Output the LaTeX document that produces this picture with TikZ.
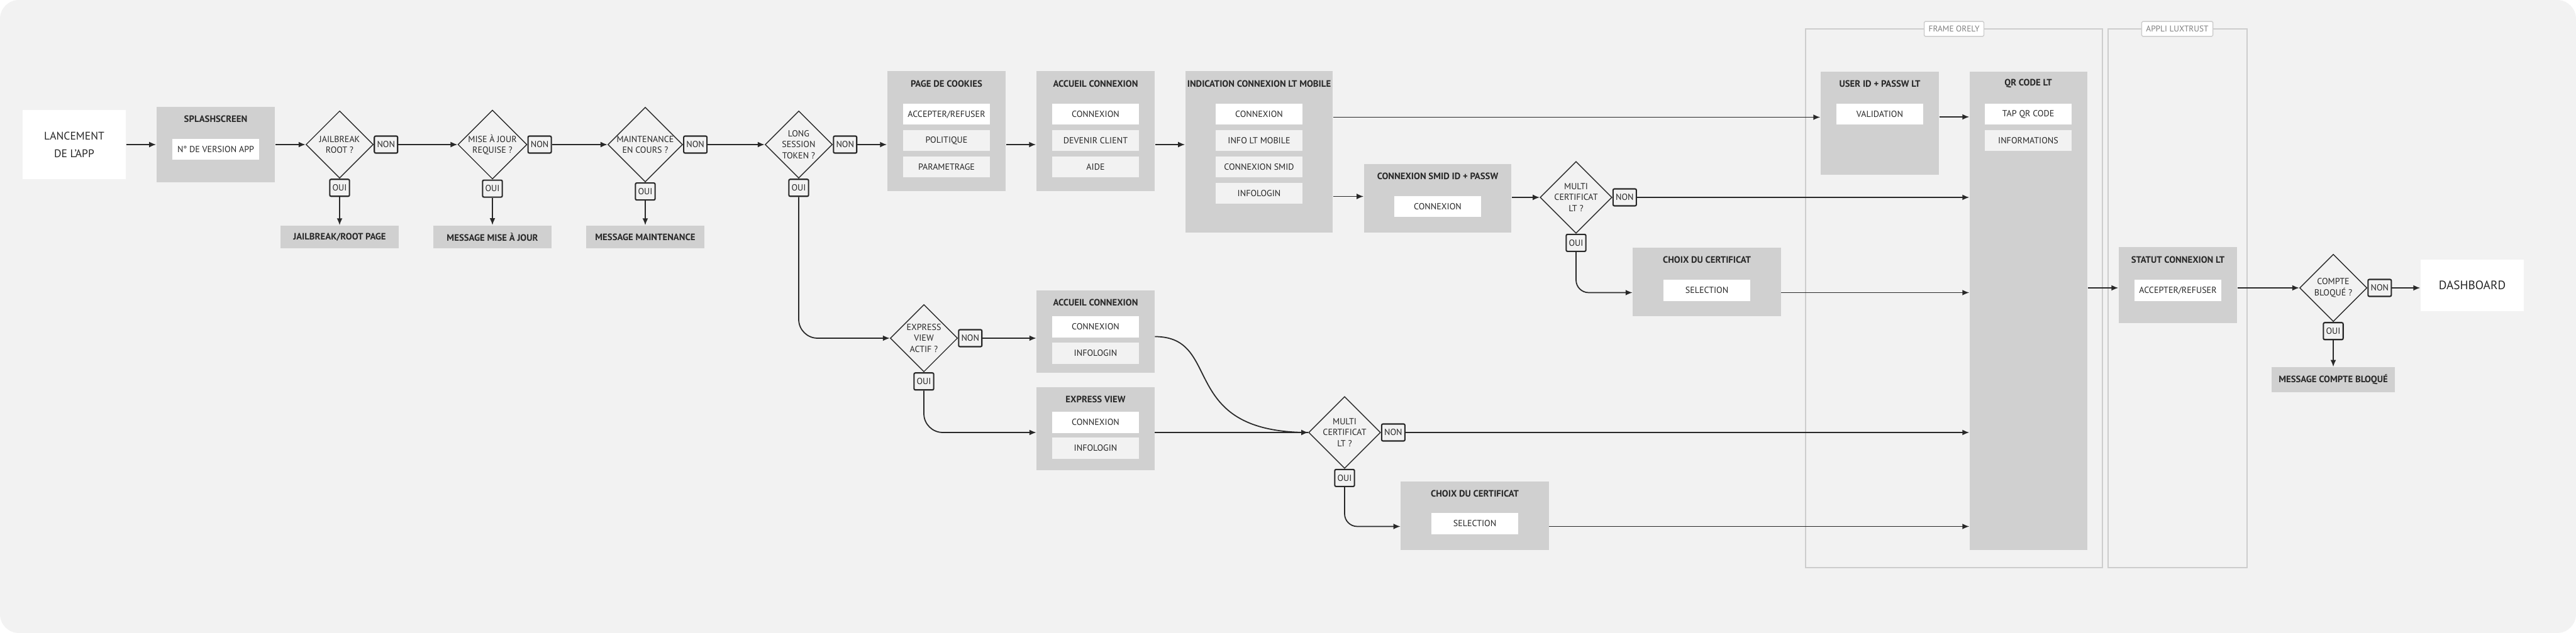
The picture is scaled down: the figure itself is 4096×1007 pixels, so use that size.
\documentclass[tikz,border=0pt]{standalone}
\usepackage{fontspec}
\setmainfont{PT Sans}
\definecolor{BgGray}{RGB}{242, 242, 242}
\definecolor{PanelGray}{RGB}{208, 208, 208}
\definecolor{FrameGray}{RGB}{205, 205, 205}
\definecolor{InkGray}{RGB}{40, 40, 40}
\usetikzlibrary{arrows.meta, positioning, shapes.geometric, calc}

\begin{document}
\begin{tikzpicture}[
            x=0.01cm, y=-0.01cm,
            panel/.style={rectangle, fill=PanelGray, inner sep=0pt},
            ttl/.style={font=\fontsize{4.2}{5}\selectfont\bfseries, text=InkGray},
            item/.style={rectangle, fill=white, minimum width=1.37cm, minimum height=0.33cm,
                        inner sep=0pt, font=\fontsize{4}{5}\selectfont, text=InkGray},
            itemb/.style={item, fill=BgGray},
            dec/.style={diamond, draw=InkGray, thin, fill=BgGray, minimum width=1.07cm, minimum height=1.07cm,
                        aspect=1, inner sep=0pt, align=center, font=\fontsize{4}{5}\selectfont, text=InkGray},
            tag/.style={rectangle, draw=InkGray, semithick, rounded corners=0.6pt, fill=BgGray,
                        minimum height=0.27cm, inner sep=1.2pt, font=\fontsize{4}{5}\selectfont, text=InkGray},
            endbox/.style={rectangle, fill=PanelGray, minimum width=1.87cm, minimum height=0.36cm,
                        font=\fontsize{4.2}{5}\selectfont\bfseries, text=InkGray},
            frame/.style={draw=FrameGray, thin},
            flabel/.style={rectangle, draw=FrameGray, fill=white, rounded corners=0.5pt, inner sep=2pt,
                        font=\fontsize{3.8}{5}\selectfont, text=gray},
            arrow/.style={-{Latex[length=1.1mm, width=0.9mm]}, line width=0.5pt, InkGray},
            link/.style={line width=0.5pt, InkGray}
        ]
            % Background
            \useasboundingbox (0,0) rectangle (4096,1007);
            \fill[BgGray] (0,0) [rounded corners=0.3cm] rectangle (4096,1007);

            % Frames
            \draw[frame] (2871,46) rectangle (3343,903);
            \draw[frame] (3352,46) rectangle (3573,903);
            \node[flabel] (orely) at (3107,46) {FRAME ORELY};
            \node[flabel] (luxtrust) at (3462,46) {APPLI LUXTRUST};

            % Start
            \node[rectangle, fill=white, minimum width=1.64cm, minimum height=1.1cm, align=center,
                  font=\fontsize{5}{8}\selectfont, text=InkGray] (start) at (118,230) {LANCEMENT\\DE L'APP};
            \node[panel, minimum width=1.88cm, minimum height=1.2cm] (splash) at (343,230) {};
            \node[ttl] at (343,189) {SPLASHSCREEN};
            \node[item] (splash1) at (343,238) {N° DE VERSION APP};

            % Checks
            \node[dec] (jail) at (540,230) {JAILBREAK\\ROOT ?};
            \node[dec] (update) at (783,230) {MISE À JOUR\\REQUISE ?};
            \node[dec] (maint) at (1026,230) {MAINTENANCE\\EN COURS ?};
            \node[dec] (session) at (1270,230) {LONG\\SESSION\\TOKEN ?};
            \foreach \d in {jail, update, maint, session} {
                \node[tag, anchor=west] (\d non) at (\d.east) {NON};
                \node[tag, anchor=north] (\d oui) at (\d.south) {OUI};
            }
            \node[endbox] (jailmsg) at (540,377) {JAILBREAK/ROOT PAGE};
            \node[endbox] (updatemsg) at (783,377) {MESSAGE MISE À JOUR};
            \node[endbox] (maintmsg) at (1026,377) {MESSAGE MAINTENANCE};

            % Row 1 screens
            \node[panel, minimum width=1.88cm, minimum height=1.91cm] (cookies) at (1505,208.5) {};
            \node[ttl] at (1505,133) {PAGE DE COOKIES};
            \node[item] (cookies1) at (1505,182) {ACCEPTER/REFUSER};
            \node[itemb] (cookies2) at (1505,224) {POLITIQUE};
            \node[itemb] (cookies3) at (1505,266) {PARAMETRAGE};

            \node[panel, minimum width=1.88cm, minimum height=1.91cm] (welcome) at (1742,208.5) {};
            \node[ttl] at (1742,133) {ACCUEIL CONNEXION};
            \node[item] (welcome1) at (1742,182) {CONNEXION};
            \node[itemb] (welcome2) at (1742,224) {DEVENIR CLIENT};
            \node[itemb] (welcome3) at (1742,266) {AIDE};

            \node[panel, minimum width=2.34cm, minimum height=2.57cm] (mobile) at (2002,241.5) {};
            \node[ttl] at (2002,133) {INDICATION CONNEXION LT MOBILE};
            \node[item] (mobile1) at (2002,182) {CONNEXION};
            \node[itemb] (mobile2) at (2002,224) {INFO LT MOBILE};
            \node[itemb] (mobile3) at (2002,266) {CONNEXION SMID};
            \node[itemb] (mobile4) at (2002,308) {INFOLOGIN};

            \node[panel, minimum width=2.34cm, minimum height=1.09cm] (smid) at (2286,315.5) {};
            \node[ttl] at (2286,280) {CONNEXION SMID ID + PASSW};
            \node[item] (smid1) at (2286,329) {CONNEXION};

            \node[dec] (multi) at (2506,314) {MULTI\\CERTIFICAT\\LT ?};
            \node[tag, anchor=west] (multinon) at (multi.east) {NON};
            \node[tag, anchor=north] (multioui) at (multi.south) {OUI};

            \node[panel, minimum width=2.35cm, minimum height=1.09cm] (choice) at (2714,448.5) {};
            \node[ttl] at (2714,413) {CHOIX DU CERTIFICAT};
            \node[item] (choice1) at (2714,462) {SELECTION};

            % Row 2 screens
            \node[dec] (express) at (1469,538) {EXPRESS\\VIEW\\ACTIF ?};
            \node[tag, anchor=west] (expressnon) at (express.east) {NON};
            \node[tag, anchor=north] (expressoui) at (express.south) {OUI};

            \node[panel, minimum width=1.87cm, minimum height=1.31cm] (welcomeb) at (1742,527.5) {};
            \node[ttl] at (1742,481) {ACCUEIL CONNEXION};
            \node[item] (welcomeb1) at (1742,520) {CONNEXION};
            \node[itemb] (welcomeb2) at (1742,562) {INFOLOGIN};

            \node[panel, minimum width=1.87cm, minimum height=1.32cm] (view) at (1742,682) {};
            \node[ttl] at (1742,635) {EXPRESS VIEW};
            \node[item] (view1) at (1742,672) {CONNEXION};
            \node[itemb] (view2) at (1742,713) {INFOLOGIN};

            \node[dec] (multib) at (2138,688) {MULTI\\CERTIFICAT\\LT ?};
            \node[tag, anchor=west] (multibnon) at (multib.east) {NON};
            \node[tag, anchor=north] (multiboui) at (multib.south) {OUI};

            \node[panel, minimum width=2.35cm, minimum height=1.09cm] (choiceb) at (2345,820.5) {};
            \node[ttl] at (2345,785) {CHOIX DU CERTIFICAT};
            \node[item] (choiceb1) at (2345,833) {SELECTION};

            % Orely / LuxTrust
            \node[panel, minimum width=1.88cm, minimum height=1.64cm] (userid) at (2989,196) {};
            \node[ttl] at (2989,133) {USER ID + PASSW LT};
            \node[item] (userid1) at (2989,182) {VALIDATION};

            \node[panel, minimum width=1.87cm, minimum height=7.61cm] (qr) at (3225.5,494.5) {};
            \node[ttl] at (3225,133) {QR CODE LT};
            \node[item] (qr1) at (3225,182) {TAP QR CODE};
            \node[itemb] (qr2) at (3225,224) {INFORMATIONS};

            \node[panel, minimum width=1.88cm, minimum height=1.21cm] (status) at (3463,453.5) {};
            \node[ttl] at (3463,413) {STATUT CONNEXION LT};
            \node[item] (status1) at (3463,462) {ACCEPTER/REFUSER};

            \node[dec] (locked) at (3710,458) {COMPTE\\BLOQUÉ ?};
            \node[tag, anchor=west] (lockednon) at (locked.east) {NON};
            \node[tag, anchor=north] (lockedoui) at (locked.south) {OUI};
            \node[endbox] (lockedmsg) at (3710,604) {MESSAGE COMPTE BLOQUÉ};
            \node[rectangle, fill=white, minimum width=1.64cm, minimum height=0.82cm,
                  font=\fontsize{5.5}{7}\selectfont, text=InkGray] (dashboard) at (3931,454) {DASHBOARD};

            % Arrows, row 1
            \draw[arrow] (start) -- (start.east -| splash.west);
            \draw[arrow] (splash.east |- jail) -- (jail.west);
            \draw[arrow] (jailnon) -- (update.west);
            \draw[arrow] (updatenon) -- (maint.west);
            \draw[arrow] (maintnon) -- (session.west);
            \draw[arrow] (sessionnon) -- (sessionnon -| cookies.west);
            \draw[arrow] (cookies.east |- session) -- (welcome.west |- session);
            \draw[arrow] (welcome.east |- session) -- (mobile.west |- session);
            \foreach \d in {jail, update, maint}
                \draw[arrow] (\d oui) -- (\d msg);
            \draw[arrow] ($(mobile.east)+(0,-55)$) -- ($(mobile.east -| userid.west)+(0,-55)$);
            \draw[arrow] ($(userid.east)+(0,-10)$) -- ($(userid.east -| qr.west)+(0,-10)$);
            \draw[arrow] ($(mobile.east)+(0,71)$) -- ($(mobile.east -| smid.west)+(0,71)$);
            \draw[arrow] (smid.east |- multi) -- (multi.west);
            \draw[arrow] (multinon) -- (multinon -| qr.west);
            \draw[arrow, rounded corners=0.2cm] (multioui) |- ($(choice.west)+(0,17)$);
            \draw[arrow] ($(choice.east)+(0,17)$) -- ($(choice.east -| qr.west)+(0,17)$);

            % Arrows, row 2
            \draw[arrow, rounded corners=0.3cm] (sessionoui) |- (express.west);
            \draw[arrow] (expressnon) -- (expressnon -| welcomeb.west);
            \draw[arrow, rounded corners=0.3cm] (expressoui) |- (view.west |- multib);
            \draw[arrow] (view.east |- multib) -- (multib.west);
            \draw[link] ($(welcomeb.east)+(0,8)$) .. controls ($(welcomeb.east)+(110,8)$) and ($(multib.west)+(-210,0)$) .. (multib.west);
            \draw[arrow] (multibnon) -- (multibnon -| qr.west);
            \draw[arrow, rounded corners=0.2cm] (multiboui) |- ($(choiceb.west)+(0,17)$);
            \draw[arrow] ($(choiceb.east)+(0,17)$) -- ($(choiceb.east -| qr.west)+(0,17)$);

            % Arrows, end
            \draw[arrow] (qr.east |- locked) -- (status.west |- locked);
            \draw[arrow] (status.east |- locked) -- (locked.west);
            \draw[arrow] (lockednon) -- (lockednon -| dashboard.west);
            \draw[arrow] (lockedoui) -- (lockedmsg);
        \end{tikzpicture}
\end{document}
